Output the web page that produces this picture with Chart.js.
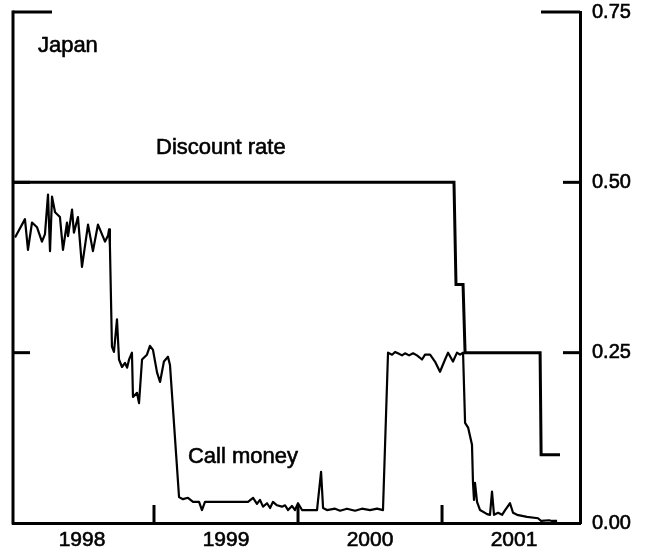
<!DOCTYPE html>
<html>
<head>
<meta charset="utf-8">
<script src="https://cdn.jsdelivr.net/npm/chart.js@4.4.1/dist/chart.umd.min.js"></script>
<style>
  html, body { margin: 0; padding: 0; background: #fff; }
  #myChart { display: block; }
</style>
</head>
<body>
<canvas id="myChart" width="652" height="556"></canvas>
<script>
// Call money rate (per cent), dates as decimal years
const callDates = [
    1998.035, 1998.104, 1998.125, 1998.153, 1998.188, 1998.222, 1998.243, 1998.264, 1998.278, 1998.292,
    1998.313, 1998.347, 1998.368, 1998.396, 1998.403, 1998.431, 1998.444, 1998.472, 1998.500, 1998.542,
    1998.576, 1998.611, 1998.660, 1998.681, 1998.688, 1998.694, 1998.708, 1998.722, 1998.743, 1998.757,
    1998.778, 1998.799, 1998.813, 1998.827, 1998.847, 1998.854, 1998.882, 1998.896, 1998.917, 1998.951,
    1998.972, 1998.993, 1999.021, 1999.042, 1999.069, 1999.097, 1999.111, 1999.174, 1999.201, 1999.236,
    1999.271, 1999.313, 1999.333, 1999.354, 1999.653, 1999.688, 1999.715, 1999.736, 1999.757, 1999.785,
    1999.806, 1999.826, 1999.854, 1999.889, 1999.910, 1999.931, 1999.958, 1999.979, 2000.000, 2000.028,
    2000.132, 2000.160, 2000.174, 2000.201, 2000.257, 2000.292, 2000.340, 2000.396, 2000.444, 2000.500,
    2000.549, 2000.590, 2000.625, 2000.653, 2000.674, 2000.694, 2000.722, 2000.743, 2000.771, 2000.799,
    2000.826, 2000.861, 2000.882, 2000.917, 2000.951, 2000.986, 2001.021, 2001.042, 2001.076, 2001.104,
    2001.125, 2001.146, 2001.160, 2001.181, 2001.208, 2001.215, 2001.222, 2001.229, 2001.243, 2001.264,
    2001.313, 2001.333, 2001.347, 2001.361, 2001.389, 2001.417, 2001.438, 2001.472, 2001.493, 2001.521,
    2001.590, 2001.667, 2001.688, 2001.743, 2001.764, 2001.799
];
const callValues = [
    0.419, 0.446, 0.401, 0.441, 0.434, 0.413, 0.424, 0.482, 0.399, 0.479,
    0.456, 0.449, 0.401, 0.441, 0.421, 0.460, 0.426, 0.449, 0.376, 0.438,
    0.399, 0.438, 0.413, 0.422, 0.431, 0.406, 0.259, 0.251, 0.299, 0.240,
    0.229, 0.235, 0.228, 0.240, 0.250, 0.185, 0.191, 0.176, 0.240, 0.247,
    0.260, 0.254, 0.221, 0.207, 0.237, 0.244, 0.232, 0.038, 0.035, 0.037,
    0.031, 0.031, 0.019, 0.031, 0.031, 0.037, 0.028, 0.034, 0.024, 0.029,
    0.022, 0.031, 0.026, 0.024, 0.026, 0.019, 0.025, 0.019, 0.029, 0.019,
    0.019, 0.075, 0.022, 0.019, 0.021, 0.018, 0.021, 0.018, 0.021, 0.019,
    0.021, 0.019, 0.250, 0.247, 0.251, 0.249, 0.246, 0.249, 0.246, 0.249,
    0.246, 0.240, 0.247, 0.247, 0.237, 0.222, 0.240, 0.250, 0.237, 0.250,
    0.247, 0.250, 0.147, 0.140, 0.115, 0.059, 0.034, 0.059, 0.031, 0.019,
    0.013, 0.012, 0.046, 0.012, 0.015, 0.012, 0.019, 0.029, 0.015, 0.012,
    0.009, 0.007, 0.003, 0.004, 0.003, 0.003
];

// Official discount rate (per cent)
const discountDates = [1998.021, 2001.083, 2001.097, 2001.146, 2001.160, 2001.681, 2001.688, 2001.819];
const discountValues = [0.50, 0.50, 0.35, 0.35, 0.25, 0.25, 0.10, 0.10];

const yearLabels = ['1998', '1999', '2000', '2001'];
const yearCentres = [1998.5, 1999.5, 2000.5, 2001.5];
const yearBreaks = [1999, 2000, 2001];
const valueTicks = [0, 0.25, 0.5, 0.75];

const notes = [
    { text: 'Japan', x: 1998.194, y: 0.691 },
    { text: 'Discount rate', x: 1999.014, y: 0.541 },
    { text: 'Call money', x: 1999.236, y: 0.088 }
];

const FONT = '"Liberation Sans", Arial, Helvetica, sans-serif';

// frame, inward tick marks and the in-chart labels
const framePlugin = {
    id: 'frame',
    afterDatasetsDraw(chart) {
        const { ctx, chartArea: a, scales: { x, y } } = chart;
        const line = (x1, y1, x2, y2) => {
            ctx.beginPath();
            ctx.moveTo(x1, y1);
            ctx.lineTo(x2, y2);
            ctx.stroke();
        };
        ctx.save();
        ctx.strokeStyle = '#000';
        ctx.lineWidth = 3;
        line(a.left, y.getPixelForValue(0.75) - 1.5, a.left, a.bottom + 1.5);
        valueTicks.forEach(v => {
            if (v === 0) return;
            const py = y.getPixelForValue(v);
            const len = v === 0.75 ? 39 : 17;
            line(a.left, py, a.left + len, py);
            line(a.right - len, py, a.right, py);
        });
        yearBreaks.forEach(yr => {
            const px = x.getPixelForValue(yr);
            line(px, a.bottom, px, a.bottom - 18);
        });
        ctx.fillStyle = '#000';
        ctx.lineWidth = 0.6;
        ctx.font = '22px ' + FONT;
        ctx.textAlign = 'left';
        ctx.textBaseline = 'alphabetic';
        notes.forEach(n => {
            const px = x.getPixelForValue(n.x);
            const py = y.getPixelForValue(n.y);
            ctx.fillText(n.text, px, py);
            ctx.strokeText(n.text, px, py);
        });
        ctx.restore();
    }
};

const data = {
    datasets: [{
        label: 'Discount rate',
        data: discountDates.map((d, i) => ({ x: d, y: discountValues[i] })),
        borderColor: '#000',
        borderWidth: 3,
        borderJoinStyle: 'miter',
        pointRadius: 0,
        tension: 0
    }, {
        label: 'Call money',
        data: callDates.map((d, i) => ({ x: d, y: callValues[i] })),
        borderColor: '#000',
        borderWidth: 2.2,
        borderJoinStyle: 'round',
        pointRadius: 0,
        tension: 0
    }]
};

const config = {
    type: 'line',
    data: data,
    plugins: [framePlugin],
    options: {
        responsive: false,
        animation: false,
        layout: { padding: { left: 13, top: 12, right: 0, bottom: 0 } },
        plugins: {
            legend: { display: false },
            tooltip: { enabled: false }
        },
        scales: {
            x: {
                type: 'linear',
                min: 1998.021,
                max: 2001.958,
                afterBuildTicks: scale => {
                    scale.ticks = yearCentres.map(v => ({ value: v }));
                },
                afterFit: scale => {
                    scale.height = 33;
                    scale.paddingLeft = 0;
                    scale.paddingRight = 0;
                },
                grid: { display: false, drawTicks: false },
                border: { display: true, width: 3, color: '#000' },
                ticks: {
                    color: '#000',
                    textStrokeColor: '#000',
                    textStrokeWidth: 0.6,
                    padding: 5,
                    maxRotation: 0,
                    autoSkip: false,
                    font: { family: FONT, size: 21 },
                    callback: (value, index) => yearLabels[index]
                }
            },
            y: {
                position: 'right',
                min: 0,
                max: 0.75,
                afterBuildTicks: scale => {
                    scale.ticks = valueTicks.map(v => ({ value: v }));
                },
                afterFit: scale => {
                    scale.width = 72;
                    scale.paddingTop = 0;
                    scale.paddingBottom = 0;
                },
                grid: { display: false, drawTicks: false },
                border: { display: true, width: 3, color: '#000' },
                ticks: {
                    color: '#000',
                    textStrokeColor: '#000',
                    textStrokeWidth: 0.6,
                    padding: 12,
                    font: { family: FONT, size: 20 },
                    callback: value => value.toFixed(2)
                }
            }
        }
    }
};

window.onload = function() {
    const ctx = document.getElementById('myChart').getContext('2d');
    const myChart = new Chart(ctx, config);
};
</script>
</body>
</html>
